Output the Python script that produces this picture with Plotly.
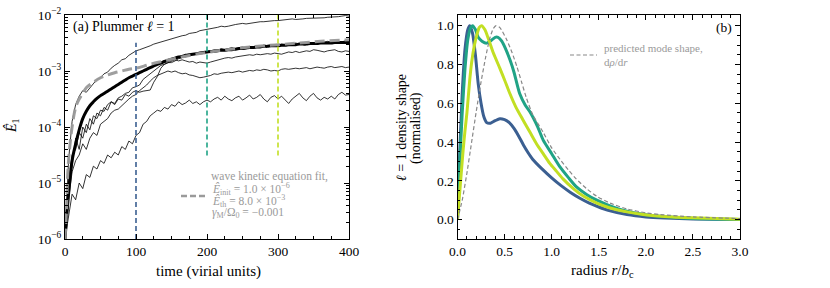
import numpy as np
import plotly.graph_objects as go

W, H = 830, 288

# ---------------- data: panel (a) ----------------
time = list(range(0, 405, 5))

run_a_log = [-5.9,-4.6,-3.9,-3.6,-3.45,-3.35,-3.38,-3.3,-3.22,-3.15,-3.12,-3.05,-3.02,-2.95,-2.9,-2.86,-2.8,-2.78,-2.72,-2.68,
             -2.64,-2.62,-2.6,-2.57,-2.55,-2.52,-2.5,-2.48,-2.46,-2.45,-2.42,-2.4,-2.38,-2.37,-2.36,-2.33,-2.32,-2.31,-2.28,-2.27,
             -2.26,-2.24,-2.23,-2.22,-2.2,-2.21,-2.2,-2.18,-2.17,-2.16,-2.15,-2.16,-2.15,-2.13,-2.13,-2.12,-2.12,-2.11,-2.1,-2.1,
             -2.1,-2.09,-2.08,-2.08,-2.07,-2.08,-2.08,-2.07,-2.06,-2.06,-2.06,-2.05,-2.05,-2.05,-2.04,-2.04,-2.04,-2.03,-2.02,-2.01,-2.02]
run_b_log = [-6.0,-5.0,-4.5,-4.4,-4.1,-4.2,-3.95,-4.05,-3.8,-3.85,-3.7,-3.72,-3.6,-3.55,-3.58,-3.48,-3.45,-3.4,-3.38,-3.3,
             -3.28,-3.25,-3.15,-3.1,-3.05,-3.0,-2.95,-2.9,-2.88,-2.85,-2.82,-2.8,-2.82,-2.8,-2.82,-2.84,-2.83,-2.86,-2.84,-2.85,
             -2.86,-2.84,-2.82,-2.8,-2.78,-2.77,-2.76,-2.77,-2.75,-2.74,-2.74,-2.72,-2.71,-2.72,-2.7,-2.71,-2.7,-2.69,-2.7,-2.68,
             -2.69,-2.7,-2.68,-2.66,-2.67,-2.65,-2.67,-2.66,-2.64,-2.65,-2.62,-2.63,-2.64,-2.66,-2.64,-2.63,-2.62,-2.65,-2.66,-2.64,-2.65]
run_c_log = [-6.0,-5.3,-4.8,-4.6,-4.5,-4.3,-4.4,-4.2,-4.1,-4.15,-3.95,-3.9,-3.85,-3.75,-3.7,-3.68,-3.62,-3.55,-3.5,-3.45,
             -3.42,-3.35,-3.3,-3.25,-3.18,-3.12,-3.08,-3.05,-3.02,-3.0,-3.02,-3.0,-3.03,-3.05,-3.04,-3.07,-3.08,-3.1,-3.12,-3.11,
             -3.1,-3.08,-3.05,-3.06,-3.04,-3.03,-3.02,-3.03,-3.01,-3.0,-3.02,-3.0,-2.99,-3.0,-2.98,-2.99,-2.97,-2.98,-3.0,-2.99,
             -3.0,-2.97,-2.96,-2.97,-2.96,-2.95,-2.96,-2.95,-2.94,-2.96,-2.95,-2.93,-2.94,-2.95,-2.93,-2.92,-2.94,-2.93,-2.92,-2.94,-2.93]
run_d_log = [-6.0,-5.6,-5.2,-5.3,-5.0,-5.1,-4.85,-4.9,-4.7,-4.75,-4.6,-4.65,-4.5,-4.55,-4.45,-4.5,-4.35,-4.4,-4.25,-4.3,
             -4.15,-4.1,-3.95,-3.9,-3.8,-3.75,-3.7,-3.72,-3.65,-3.68,-3.6,-3.63,-3.55,-3.6,-3.57,-3.52,-3.58,-3.55,-3.6,-3.55,
             -3.52,-3.55,-3.5,-3.47,-3.52,-3.45,-3.5,-3.53,-3.48,-3.45,-3.52,-3.48,-3.43,-3.5,-3.47,-3.42,-3.5,-3.55,-3.47,-3.44,
             -3.5,-3.45,-3.52,-3.58,-3.5,-3.45,-3.4,-3.48,-3.53,-3.45,-3.4,-3.48,-3.52,-3.47,-3.5,-3.45,-3.5,-3.42,-3.38,-3.43,-3.42]
run_e_log = [-6.0,-5.0,-4.7,-4.2,-4.4,-4.0,-4.1,-3.85,-3.95,-3.75,-3.8,-3.65,-3.7,-3.55,-3.6,-3.5,-3.52,-3.42,-3.45,-3.38,
             -3.35,-3.38,-3.36,-3.35,-3.34,-3.2,-3.1,-2.95,-2.88,-2.85,-2.85,-2.82,-2.78,-2.76,-2.75,-2.72,-2.7,-2.7,-2.68,-2.66,
             -2.65,-2.64,-2.62,-2.63,-2.6,-2.62,-2.6,-2.58,-2.6,-2.58,-2.57,-2.59,-2.56,-2.57,-2.55,-2.56,-2.54,-2.55,-2.56,-2.53,
             -2.54,-2.52,-2.53,-2.51,-2.52,-2.5,-2.52,-2.5,-2.51,-2.49,-2.5,-2.48,-2.5,-2.49,-2.47,-2.49,-2.48,-2.47,-2.48,-2.46,-2.47]
mean_log = [-6.0,-5.2,-4.6,-4.3,-4.05,-3.85,-3.72,-3.62,-3.55,-3.49,-3.44,-3.4,-3.36,-3.32,-3.28,-3.24,-3.2,-3.16,-3.12,-3.09,
            -3.06,-3.03,-3.0,-2.97,-2.94,-2.91,-2.88,-2.86,-2.83,-2.81,-2.79,-2.77,-2.75,-2.74,-2.72,-2.71,-2.7,-2.69,-2.68,-2.67,
            -2.66,-2.65,-2.65,-2.64,-2.63,-2.63,-2.62,-2.62,-2.61,-2.6,-2.6,-2.59,-2.58,-2.58,-2.57,-2.57,-2.56,-2.56,-2.55,-2.55,
            -2.55,-2.54,-2.54,-2.53,-2.53,-2.53,-2.52,-2.52,-2.52,-2.51,-2.51,-2.51,-2.5,-2.5,-2.5,-2.5,-2.49,-2.49,-2.49,-2.49,-2.49]

fit_time = [0, 2, 4, 6, 10, 15, 20, 25, 30, 40, 50, 60, 70, 80, 90, 100, 120, 140, 160, 180, 200, 240, 280, 320, 360, 400]
fit_log = [-6.0, -5.5, -4.8, -4.45, -4.0, -3.65, -3.5, -3.4, -3.3, -3.2, -3.12, -3.07, -3.03, -3.0, -2.97, -2.95,
           -2.88, -2.82, -2.76, -2.71, -2.67, -2.6, -2.55, -2.51, -2.47, -2.44]

snap_times = [100, 200, 300]
snap_bottom = [1e-6, 3.1e-5, 3.1e-5]
snap_top = [3.2e-3, 1e-2, 1e-2]
snap_colors = ["#3b5f91", "#20a386", "#c2df23"]

# ---------------- data: panel (b) ----------------
r_blue = [0,0.02,0.05,0.08,0.11,0.13,0.16,0.19,0.22,0.25,0.28,0.31,0.35,0.4,0.45,0.5,0.55,0.6,0.65,0.7,0.75,0.8,0.9,1.0,1.1,1.2,1.3,1.4,1.5,1.6,1.8,2.0,2.2,2.5,3.0]
v_blue = [0,0.3,0.65,0.88,0.98,1.0,0.96,0.85,0.7,0.6,0.53,0.5,0.497,0.51,0.52,0.515,0.5,0.47,0.43,0.385,0.345,0.31,0.26,0.215,0.175,0.14,0.11,0.085,0.065,0.048,0.026,0.014,0.008,0.003,0.0]
r_teal = [0,0.02,0.05,0.08,0.11,0.14,0.16,0.19,0.22,0.26,0.31,0.36,0.4,0.43,0.47,0.52,0.56,0.6,0.66,0.72,0.77,0.85,0.91,1.0,1.09,1.18,1.26,1.37,1.48,1.6,1.8,2.0,2.15,2.5,3.0]
v_teal = [0,0.25,0.55,0.78,0.93,0.99,1.0,0.98,0.94,0.92,0.91,0.925,0.94,0.94,0.92,0.87,0.82,0.76,0.65,0.59,0.555,0.48,0.41,0.34,0.27,0.215,0.17,0.13,0.10,0.075,0.043,0.025,0.017,0.006,0.001]
r_yellow = [0,0.03,0.06,0.08,0.1,0.13,0.15,0.18,0.21,0.23,0.255,0.29,0.33,0.38,0.45,0.5,0.556,0.62,0.7,0.77,0.84,0.91,0.98,1.05,1.12,1.23,1.34,1.48,1.62,1.8,1.97,2.2,2.5,3.0]
v_yellow = [0,0.18,0.36,0.46,0.55,0.72,0.81,0.9,0.96,0.99,1.0,0.98,0.93,0.86,0.78,0.72,0.65,0.58,0.51,0.45,0.39,0.34,0.29,0.25,0.21,0.16,0.12,0.085,0.06,0.04,0.026,0.016,0.009,0.002]
r_pred = [0,0.05,0.1,0.15,0.2,0.25,0.3,0.34,0.38,0.41,0.45,0.52,0.58,0.63,0.68,0.73,0.8,0.91,1.0,1.09,1.18,1.26,1.37,1.48,1.62,1.8,2.0,2.15,2.5,3.0]
v_pred = [0,0.1,0.24,0.4,0.56,0.71,0.84,0.93,0.985,1.0,0.99,0.93,0.86,0.79,0.71,0.63,0.54,0.45,0.37,0.31,0.255,0.21,0.16,0.12,0.085,0.055,0.035,0.026,0.014,0.005]

FONT = "Times New Roman, Liberation Serif, serif"
GRAY = "#9a9a9a"

fig = go.Figure()

# panel (a) traces
for run in [run_a_log, run_b_log, run_c_log, run_d_log, run_e_log]:
    fig.add_trace(go.Scatter(x=time, y=10 ** np.array(run), mode="lines",
                             line=dict(color="black", width=0.8), xaxis="x", yaxis="y", showlegend=False))
fig.add_trace(go.Scatter(x=time, y=10 ** np.array(mean_log), mode="lines",
                         line=dict(color="black", width=3, shape="spline"), xaxis="x", yaxis="y", showlegend=False))
fig.add_trace(go.Scatter(x=fit_time, y=10 ** np.array(fit_log), mode="lines",
                         line=dict(color=GRAY, width=3, dash="10px,5px", shape="spline"),
                         opacity=0.95, xaxis="x", yaxis="y", showlegend=False))
for t, b, tp, c in zip(snap_times, snap_bottom, snap_top, snap_colors):
    fig.add_trace(go.Scatter(x=[t, t], y=[b, tp], mode="lines",
                             line=dict(color=c, width=1.6, dash="5px,3px"), xaxis="x", yaxis="y", showlegend=False))

# panel (b) traces
for rr, vv, c in [(r_blue, v_blue, snap_colors[0]), (r_teal, v_teal, snap_colors[1]), (r_yellow, v_yellow, snap_colors[2])]:
    fig.add_trace(go.Scatter(x=rr, y=vv, mode="lines", line=dict(color=c, width=3, shape="spline", smoothing=0.6),
                             xaxis="x2", yaxis="y2", showlegend=False))
fig.add_trace(go.Scatter(x=r_pred, y=v_pred, mode="lines",
                         line=dict(color="#888888", width=1.2, dash="4px,2.5px", shape="spline", smoothing=0.6),
                         xaxis="x2", yaxis="y2", showlegend=False))

# geometry
def px_x(p):
    return p / W

def px_y(p):
    return 1 - p / H

ydom = [px_y(239), px_y(15)]
tickfont = dict(family=FONT, size=13.5, color="black")
common = dict(showline=True, linecolor="black", linewidth=1.1, mirror="allticks", ticks="inside",
              ticklen=4.5, tickwidth=1, tickcolor="black", showgrid=False, zeroline=False, tickfont=tickfont,
              automargin=False)

minor_log = [m * 10 ** k for k in range(-6, -2) for m in range(2, 10)]
fig.update_layout(
    width=W, height=H, autosize=False,
    margin=dict(l=0, r=0, t=0, b=0, pad=0),
    font=dict(family=FONT, color="black"),
    paper_bgcolor="white", plot_bgcolor="white",
    xaxis=dict(domain=[px_x(65), px_x(349)], range=[0, 400], anchor="y",
               tickvals=[0, 100, 200, 300, 400],
               minor=dict(tickvals=list(range(25, 400, 25)), ticks="inside", ticklen=2.5, tickcolor="black"),
               **common),
    yaxis=dict(domain=ydom, type="log", range=[-6, -2], anchor="x",
               tickvals=[1e-6, 1e-5, 1e-4, 1e-3, 1e-2],
               ticktext=["10<sup>−6</sup>", "10<sup>−5</sup>", "10<sup>−4</sup>", "10<sup>−3</sup>", "10<sup>−2</sup>"],
               minor=dict(tickvals=minor_log, ticks="inside", ticklen=2.5, tickcolor="black"),
               **common),
    xaxis2=dict(domain=[px_x(457.5), px_x(740)], range=[0, 3], anchor="y2",
                tickvals=[0, 0.5, 1.0, 1.5, 2.0, 2.5, 3.0], ticktext=["0.0", "0.5", "1.0", "1.5", "2.0", "2.5", "3.0"],
                minor=dict(tickvals=[round(0.1 * i, 2) for i in range(1, 30)], ticks="inside", ticklen=2.5, tickcolor="black"),
                **common),
    yaxis2=dict(domain=ydom, range=[-0.1, 1.055], anchor="x2",
                tickvals=[0, 0.2, 0.4, 0.6, 0.8, 1.0], ticktext=["0.0", "0.2", "0.4", "0.6", "0.8", "1.0"],
                minor=dict(tickvals=[round(-0.05 + 0.05 * i, 3) for i in range(0, 23)], ticks="inside", ticklen=2.5, tickcolor="black"),
                **common),
)

def ann(text, x, y, size=13.5, color="black", xanchor="center", yanchor="middle", angle=0):
    fig.add_annotation(text=text, x=px_x(x), y=px_y(y), xref="paper", yref="paper", showarrow=False,
                       xanchor=xanchor, yanchor=yanchor, textangle=angle,
                       font=dict(family=FONT, size=size, color=color))

ann("time (virial units)", 208, 271, size=15)
ann("radius <i>r</i>/<i>b</i><sub>c</sub>", 602, 271, size=15)
ann("<i>Ê</i><sub>1</sub>", 12, 126, size=14, angle=-90)
ann("<i>ℓ</i> = 1 density shape", 401, 128, size=14, angle=-90)
ann("(normalised)", 416, 128, size=14, angle=-90)
ann("(a) Plummer <i>ℓ</i> = 1", 71, 27, size=14, xanchor="left")
ann("(b)", 734, 27, size=13.5, xanchor="right")

ann("wave kinetic equation fit,", 209, 176, size=11.5, color=GRAY, xanchor="left")
ann("<i>Ê</i><sub>init</sub> = 1.0 × 10<sup>−6</sup>", 210, 188.5, size=11.5, color=GRAY, xanchor="left")
ann("<i>Ê</i><sub>th</sub> = 8.0 × 10<sup>−3</sup>", 210, 200.5, size=11.5, color=GRAY, xanchor="left")
ann("<i>γ</i><sub>M</sub>/Ω<sub>0</sub> = −0.001", 210, 212.5, size=11.5, color=GRAY, xanchor="left")
ann("predicted mode shape,", 602, 48, size=11, color=GRAY, xanchor="left")
ann("d<i>ρ</i>/d<i>r</i>", 602, 62, size=11, color=GRAY, xanchor="left")

# legend handles
fig.add_shape(type="line", xref="paper", yref="paper", x0=px_x(181), x1=px_x(205), y0=px_y(196), y1=px_y(196),
              line=dict(color=GRAY, width=2.5, dash="6px,3px"))
fig.add_shape(type="line", xref="paper", yref="paper", x0=px_x(570), x1=px_x(597), y0=px_y(55), y1=px_y(55),
              line=dict(color="#888888", width=1.2, dash="4px,2.5px"))

fig.write_html("out.html", config={"displayModeBar": False},
               post_script="document.body.style.margin='0';document.body.style.overflow='hidden';")
